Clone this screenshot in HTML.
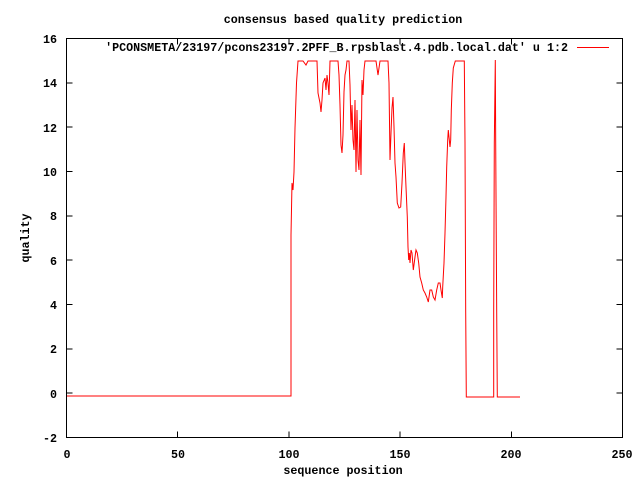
<!DOCTYPE html>
<html><head><style>
body{margin:0;background:#fff}
svg text{font-family:"Liberation Mono",monospace;font-weight:bold;font-size:11.7px;fill:#000}
</style></head><body>
<svg width="640" height="480" xmlns="http://www.w3.org/2000/svg">
<rect width="640" height="480" fill="#fff"/>
<g stroke="#000" stroke-width="1" fill="none" shape-rendering="crispEdges">
<rect x="66.5" y="38.5" width="556" height="399"/>
<path d="M66.5 38.5h6M622.5 38.5h-6M66.5 82.8h6M622.5 82.8h-6M66.5 127.2h6M622.5 127.2h-6M66.5 171.5h6M622.5 171.5h-6M66.5 215.8h6M622.5 215.8h-6M66.5 260.2h6M622.5 260.2h-6M66.5 304.5h6M622.5 304.5h-6M66.5 348.8h6M622.5 348.8h-6M66.5 393.2h6M622.5 393.2h-6M66.5 437.5h6M622.5 437.5h-6"/>
<path d="M66.5 437.5v-6M66.5 38.5v6M177.7 437.5v-6M177.7 38.5v6M288.9 437.5v-6M288.9 38.5v6M400.1 437.5v-6M400.1 38.5v6M511.3 437.5v-6M511.3 38.5v6M622.5 437.5v-6M622.5 38.5v6"/>
</g>
<g text-anchor="end">
<text x="57" y="43">16</text><text x="57" y="87">14</text><text x="57" y="132">12</text><text x="57" y="176">10</text>
<text x="57" y="220">8</text><text x="57" y="265">6</text><text x="57" y="309">4</text><text x="57" y="353">2</text>
<text x="57" y="398">0</text><text x="57" y="442">-2</text>
</g>
<g text-anchor="middle">
<text x="67" y="458">0</text><text x="178" y="458">50</text><text x="289" y="458">100</text><text x="400" y="458">150</text><text x="511" y="458">200</text><text x="622" y="458">250</text>
<text x="343" y="23">consensus based quality prediction</text>
<text x="343" y="474">sequence position</text>
</g>
<text x="0" y="0" text-anchor="middle" transform="translate(29,238) rotate(-90)">quality</text>
<text x="568" y="51" text-anchor="end">'PCONSMETA/23197/pcons23197.2PFF_B.rpsblast.4.pdb.local.dat' u 1:2</text>
<line x1="577" y1="47.5" x2="609" y2="47.5" stroke="#f00" stroke-width="1"/>
<polyline fill="none" stroke="#f00" stroke-width="1" points="67,396 291,396 291,235 292,183 293,190 294,172 295,128 296.5,83 298,61 303,61 306,65 308,61 317,61 318,93 320,103 321,112 322,100 323,83 325,78 326,90 327,75 328,83 329,95 330,61 338,61 339,75 340,105 341,145 342,153 343,135 344,92 345,75 346,70 347,61 349,61 350,85 351,130 352,105 353,140 354,150 355,100 356,172 357,110 358,160 359,170 360,120 361,175 362,80 363,95 364,70 365,61 376,61 378,75 380,61 388,61 389,83 390,160 391,133 392,108 393,97 394,127 395,163 396,177 397.3,203 399,208 400.7,207 402,183 403.3,153 404.3,143 405,163 406,187 407.3,217 408,247 408.7,260 409.3,253 410,263 411,250 412,253 413.3,270 415,257 416,250 417.3,253 418.7,263 420,277 421.7,283 423.3,290 425,293 426.7,297 428.3,302 430,290 431.7,290 433.3,297 435,300 436.7,290 438.3,283 440,283 441,290 442.3,298 442.7,287 444,263 445,233 446,197 446.7,167 447.7,140 448.3,130 449.3,140 450,147 450.7,140 451.3,110 452.3,83 453.3,68 455.3,61 464.3,61 465,143 465.7,312 466.3,397 493.7,397 493.7,312 494.3,143 495.3,60 495.7,143 496.7,312 497.3,397 520,397"/>
</svg>
</body></html>
